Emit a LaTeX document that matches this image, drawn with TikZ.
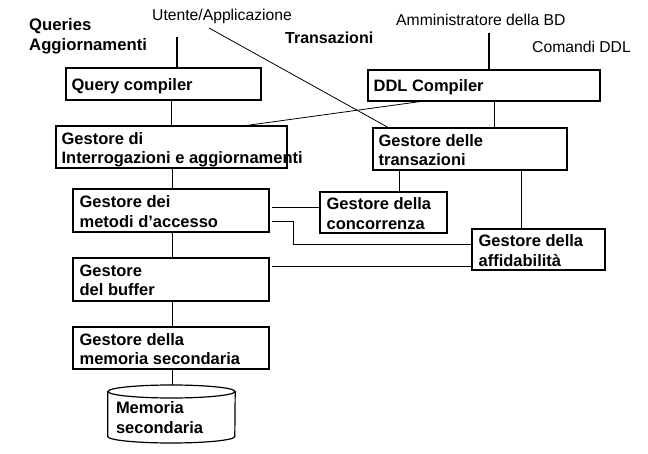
\documentclass[tikz,border=0pt]{standalone}
\usepackage{fontspec}
\setmainfont{Liberation Sans}
\begin{document}
\begin{tikzpicture}[x=1pt,y=-1pt,
  box/.style={draw, line width=1.2pt, inner sep=0pt},
  btxt/.style={inner sep=0pt, anchor=north west, align=left, font=\fontsize{16.5}{19.5}\selectfont\bfseries},
  stxt/.style={inner sep=0pt, anchor=base west, font=\fontsize{16.5}{19.5}\selectfont\bfseries},
  lbl/.style={inner sep=0pt, anchor=base west, font=\fontsize{15.7}{18}\selectfont},
  blbl/.style={inner sep=0pt, anchor=base west, font=\fontsize{16}{20}\selectfont\bfseries},
  conn/.style={line width=0.8pt},
  thickconn/.style={line width=2pt},
  side/.style={conn, shorten <=2pt}]
\useasboundingbox (0,0) rectangle (648,454);

% boxes
\node[box, minimum width=195pt, minimum height=32pt] (qc) at (163.5,84) {};
\node[box, minimum width=231pt, minimum height=42pt] (gi) at (171.5,147) {};
\node[box, minimum width=196pt, minimum height=43pt] (gm) at (171,210.5) {};
\node[box, minimum width=196pt, minimum height=43pt] (gb) at (171,279.5) {};
\node[box, minimum width=196pt, minimum height=42pt] (gs) at (171,348) {};
\node[box, minimum width=232pt, minimum height=31pt] (ddl) at (484,85.5) {};
\node[box, minimum width=194pt, minimum height=42pt] (gt) at (470,149) {};
\node[box, minimum width=127pt, minimum height=41pt] (gc) at (383.5,212.5) {};
\node[box, minimum width=133pt, minimum height=41pt] (ga) at (538.5,249.5) {};
\node[inner sep=0pt, minimum width=127pt, minimum height=58pt] (cyl) at (171.5,414) {};
\draw[line width=1.2pt] (cyl.west |- 0,391.5) -- (cyl.west |- 0,436.5)
  arc[start angle=180, end angle=360, x radius=63.5pt, y radius=6.5pt]
  -- (cyl.east |- 0,391.5);
\draw[line width=1.2pt] (171.5,391.5) ellipse[x radius=63.5pt, y radius=6.5pt];

% box texts
\node[stxt] (tqc) at ([xshift=6pt,yshift=-7pt]qc.west) {Query compiler};
\node[stxt] (tddl) at ([xshift=6pt,yshift=-6.5pt]ddl.west) {DDL Compiler};
\node[btxt] (tgi) at ([xshift=6pt,yshift=14.8pt]gi.west) {Gestore di\\Interrogazioni e aggiornamenti};
\node[btxt] (tgm) at ([xshift=7pt,yshift=15pt]gm.west) {Gestore dei\\metodi d’accesso};
\node[btxt] (tgb) at ([xshift=7pt,yshift=15pt]gb.west) {Gestore\\del buffer};
\node[btxt] (tgs) at ([xshift=7pt,yshift=15pt]gs.west) {Gestore della\\memoria secondaria};
\node[btxt] (tgt) at ([xshift=6pt,yshift=15pt]gt.west) {Gestore delle\\transazioni};
\node[btxt] (tgc) at ([xshift=7pt,yshift=15pt]gc.west) {Gestore della\\concorrenza};
\node[btxt] (tga) at ([xshift=7pt,yshift=15pt]ga.west) {Gestore della\\affidabilità};
\node[btxt] (tcyl) at ([xshift=8pt,yshift=12.5pt]cyl.west) {Memoria\\secondaria};

% free labels
\node[blbl, font=\fontsize{16.7}{20}\selectfont\bfseries] (lq) at (29,31) {Queries};
\node[blbl, font=\fontsize{16.7}{20}\selectfont\bfseries] (la) at (29,51) {Aggiornamenti};
\node[lbl] (lu) at (152,21) {Utente/Applicazione};
\node[blbl] (lt) at (285,44) {Transazioni};
\node[lbl] (lam) at (396,26) {Amministratore della BD};
\node[lbl] (lc) at (532,53) {Comandi DDL};

% connectors
\coordinate (uq) at (177,37);
\draw[thickconn] (uq) -- (uq |- qc.north);
\coordinate (ad) at (489,33);
\draw[thickconn] (ad) -- (ad |- ddl.north);
\coordinate (ua) at (209,28);
\draw[conn] (ua) -- (388,0 |- gt.north);
\draw[conn] (171,0 |- qc.south) -- (171,0 |- gi.north);
\draw[conn] (420,0 |- ddl.south) -- (247,0 |- gi.north);
\draw[conn] (494,0 |- ddl.south) -- (494,0 |- gt.north);
\draw[conn] (172,0 |- gi.south) -- (172,0 |- gm.north);
\draw[conn] (172,0 |- gm.south) -- (172,0 |- gb.north);
\draw[conn] (172,0 |- gb.south) -- (172,0 |- gs.north);
\draw[conn] (172,0 |- gs.south) -- (172,385);
\draw[conn] (399,0 |- gt.south) -- (399,0 |- gc.north);
\draw[conn] (521,0 |- gt.south) -- (521,0 |- ga.north);
\draw[side] (gm.east |- 0,207) -- (gc.west |- 0,207);
\draw[side] (gm.east |- 0,221) -- (293,221) -- (293,244) -- (ga.west |- 0,244);
\draw[side] (gb.east |- 0,266) -- (ga.west |- 0,266);
\end{tikzpicture}
\end{document}
